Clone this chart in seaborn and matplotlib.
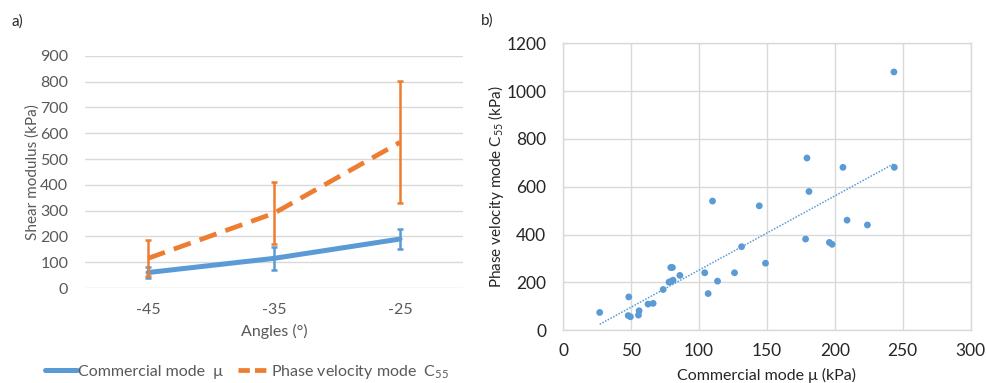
import numpy as np
import matplotlib
matplotlib.use("Agg")
import matplotlib.pyplot as plt
import seaborn as sns
from matplotlib.lines import Line2D

# a) shear modulus vs angle
angles = ["-45", "-35", "-25"]
mu_mean = [60, 115, 190]
mu_err = [20, 45, 38]
c55_mean = [115, 290, 565]
c55_err = [70, 120, 237]

# b) C55 vs mu scatter
mu_pts = [27, 48.4, 48, 49.6, 56, 55.5, 62.6, 66.3, 73.7, 78, 79.5, 79.3, 80.5, 81,
          86, 104.3, 106.8, 110, 113.7, 126.2, 131.4, 144.4, 149, 178.5, 179.5, 181,
          196, 198, 206, 209, 224, 243.5, 243.8]
c55_pts = [74, 139, 61, 56, 81, 63, 109, 112, 170, 201, 204, 262, 262, 209,
           229, 240, 153, 540, 205, 240, 349, 520, 280, 381, 720, 580,
           367, 359, 681, 460, 440, 1080, 681]

sns.set_theme(style="white")
plt.rcParams["font.family"] = ["Lato", "DejaVu Sans"]
plt.rcParams["mathtext.fontset"] = "custom"
plt.rcParams["mathtext.rm"] = "Lato"
plt.rcParams["mathtext.it"] = "Lato:italic"

blue = "#5b9bd5"
orange = "#ed7d31"
grid = "#d9d9d9"
grey_txt = "#595959"
dark_txt = "#262626"

fig = plt.figure(figsize=(9.86, 3.83), dpi=100)

# ---- panel a ----
ax1 = fig.add_axes([0.0862, 0.248, 0.3834, 0.606])
xpos = np.arange(len(angles))
sns.lineplot(x=xpos, y=mu_mean, ax=ax1, color=blue, linewidth=3.6)
sns.lineplot(x=xpos, y=c55_mean, ax=ax1, color=orange, linewidth=3.4)
ax1.lines[-1].set_dashes([3.8, 2])
ax1.errorbar(xpos, mu_mean, yerr=mu_err, fmt="none", ecolor=blue,
             elinewidth=1.8, capsize=2.5, capthick=1.8)
ax1.errorbar(xpos, c55_mean, yerr=c55_err, fmt="none", ecolor=orange,
             elinewidth=1.8, capsize=2.5, capthick=1.8)
ax1.set_xlim(-0.5, 2.5)
ax1.set_ylim(0, 900)
ax1.set_yticks(range(0, 901, 100))
ax1.set_xticks(xpos)
ax1.set_xticklabels(angles)
ax1.yaxis.grid(True, color=grid, linewidth=1)
ax1.set_axisbelow(True)
for s in ax1.spines.values():
    s.set_visible(False)
ax1.tick_params(axis="both", length=0, labelsize=11.5, colors=grey_txt)
ax1.tick_params(axis="y", pad=12)
ax1.tick_params(axis="x", pad=11)
ax1.set_xlabel("Angles (°)", fontsize=11.5, color=grey_txt, labelpad=5)
ax1.set_ylabel("Shear modulus (kPa)", fontsize=11, color=grey_txt, labelpad=0)

handles = [Line2D([0], [0], color=blue, linewidth=3.6),
           Line2D([0], [0], color=orange, linewidth=3.4, dashes=[2.4, 1.1])]
fig.legend(handles, ["Commercial mode  μ", r"Phase velocity mode  C$_{\mathrm{55}}$"],
           loc="center left", bbox_to_anchor=(0.031, 0.03), ncol=2, frameon=False,
           fontsize=11.5, handlelength=2.0, handletextpad=0.1, columnspacing=0.9,
           labelcolor=grey_txt)

# ---- panel b ----
ax2 = fig.add_axes([0.571, 0.138, 0.4135, 0.749])
sns.scatterplot(x=mu_pts, y=c55_pts, ax=ax2, color=blue, s=24, edgecolor="none")
sns.regplot(x=np.array(mu_pts), y=np.array(c55_pts), ax=ax2, scatter=False, ci=None,
            truncate=True, line_kws=dict(color=blue, linewidth=1.1, linestyle=(0, (1, 1))))
ax2.set_xlim(0, 300)
ax2.set_ylim(0, 1200)
ax2.set_xticks(range(0, 301, 50))
ax2.set_yticks(range(0, 1201, 200))
ax2.grid(True, color=grid, linewidth=1)
ax2.set_axisbelow(True)
for s in ax2.spines.values():
    s.set_color(grid)
    s.set_linewidth(1)
ax2.tick_params(axis="both", length=0, labelsize=12.5, colors=dark_txt)
ax2.tick_params(axis="y", pad=12)
ax2.tick_params(axis="x", pad=9)
ax2.set_xlabel("Commercial mode μ (kPa)", fontsize=11.5, color=dark_txt, labelpad=7)
ax2.set_ylabel(r"Phase velocity mode C$_{\mathrm{55}}$ (kPa)", fontsize=11,
               color=dark_txt, labelpad=0)

fig.text(0.012, 0.943, "a)", fontsize=11, color=dark_txt, va="center")
fig.text(0.488, 0.946, "b)", fontsize=11, color=dark_txt, va="center")

fig.savefig("out.png", dpi=100)
